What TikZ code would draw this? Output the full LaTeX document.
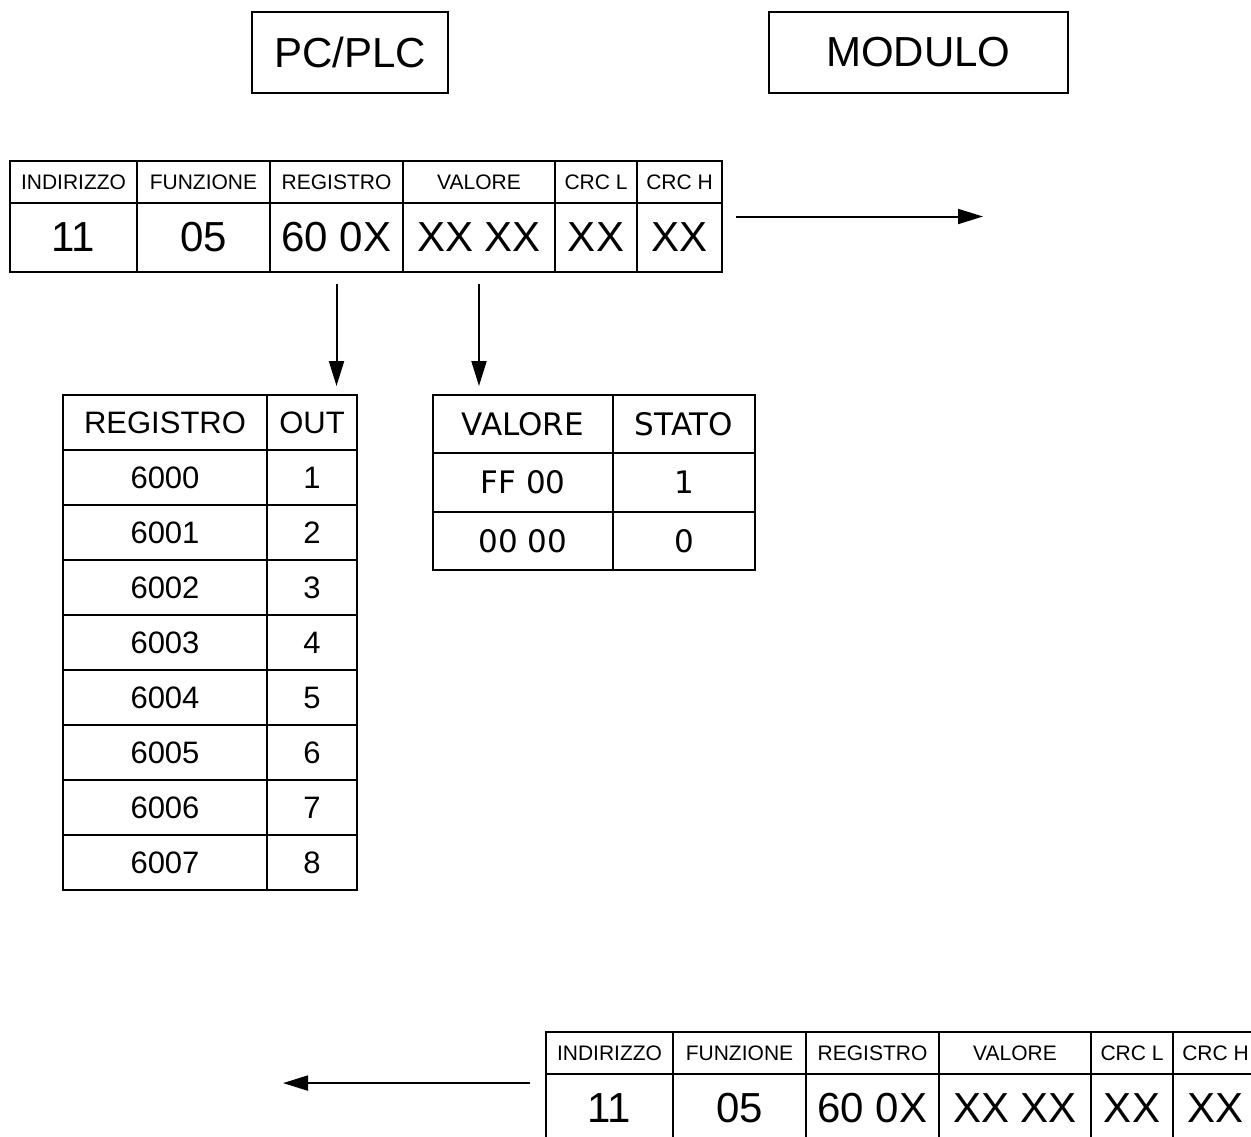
\documentclass[tikz,border=0pt]{standalone}
\usepackage{fontspec}
\setmainfont{Liberation Sans}
\newfontfamily\verdanalike{DejaVu Sans}
\usetikzlibrary{positioning, arrows.meta, calc}

% one Modbus frame: prefix, x, y of its top left corner
\newcommand{\drawFrame}[3]{%
  \node[hcell, minimum width=127pt, anchor=north west] (#1h1) at (#2,#3) {INDIRIZZO};
  \node[hcell, minimum width=133pt, right=0pt of #1h1] (#1h2) {FUNZIONE};
  \node[hcell, minimum width=133pt, right=0pt of #1h2] (#1h3) {REGISTRO};
  \node[hcell, minimum width=152pt, right=0pt of #1h3] (#1h4) {VALORE};
  \node[hcell, minimum width=82pt, right=0pt of #1h4] (#1h5) {CRC L};
  \node[hcell, minimum width=85pt, right=0pt of #1h5] (#1h6) {CRC H};
  \node[dcell, minimum width=127pt, below=0pt of #1h1] (#1d1) {11};
  \node[dcell, minimum width=133pt, below=0pt of #1h2] (#1d2) {05};
  \node[dcell, minimum width=133pt, below=0pt of #1h3] (#1d3) {60 0X};
  \node[dcell, minimum width=152pt, below=0pt of #1h4] (#1d4) {XX XX};
  \node[dcell, minimum width=82pt, below=0pt of #1h5] (#1d5) {XX};
  \node[dcell, minimum width=85pt, below=0pt of #1h6] (#1d6) {XX};
}

\begin{document}
\begin{tikzpicture}[x=1pt, y=-1pt,
      titlebox/.style={draw, line width=2.5pt, minimum height=81pt, inner sep=0pt, font=\fontsize{42}{48}\selectfont},
      hcell/.style={draw, line width=2.2pt, outer sep=0pt, inner sep=0pt, minimum height=42pt, font=\fontsize{21}{24}\selectfont},
      dcell/.style={draw, line width=2.2pt, outer sep=0pt, inner sep=0pt, minimum height=69pt, font=\fontsize{42}{48}\selectfont},
      rcell/.style={draw, line width=2.2pt, outer sep=0pt, inner sep=0pt, minimum height=55pt, font=\fontsize{31}{36}\selectfont},
      vcell/.style={draw, line width=2.2pt, outer sep=0pt, inner sep=0pt, minimum height=58.3pt, font=\verdanalike\fontsize{31}{36}\selectfont},
      arr/.style={-{Triangle[length=25pt, width=15pt]}, line width=2pt}]
    \useasboundingbox (0,0) rectangle (1251,1136);
    \clip (0,0) rectangle (1251,1136);

    \node[titlebox, minimum width=196pt] (plc) at (350,52.5) {PC/PLC};
    \node[titlebox, minimum width=299pt] (mod) at (918.5,52.5) {MODULO};

    % request and answer frames
    \drawFrame{t}{10}{161}
    \drawFrame{b}{546}{1032}

    % register table
    \node[rcell, minimum width=204pt, anchor=north west] (rh1) at (63,395) {REGISTRO};
    \node[rcell, minimum width=90pt, right=0pt of rh1] (rh2) {OUT};
    \foreach \i [count=\n] in {0,...,7} {
      \node[rcell, minimum width=204pt, anchor=north west] (reg\i) at (63,{450+55*\i}) {600\i};
      \node[rcell, minimum width=90pt, right=0pt of reg\i] (out\i) {\n};
    }

    % value table
    \node[vcell, minimum width=180pt, anchor=north west] (vh1) at (433,395) {VALORE};
    \node[vcell, minimum width=142pt, right=0pt of vh1] (vh2) {STATO};
    \node[vcell, minimum width=180pt, below=0pt of vh1] (von) {FF 00};
    \node[vcell, minimum width=142pt, below=0pt of vh2] (son) {1};
    \node[vcell, minimum width=180pt, below=0pt of von] (voff) {00 00};
    \node[vcell, minimum width=142pt, below=0pt of son] (soff) {0};

    \draw[arr] ([xshift=14pt]$(th6.north east)!0.5!(td6.south east)$) -- ++(247,0);
    \draw[arr] ([yshift=-12pt]td3.south) -- ([yshift=9pt]td3.south |- rh1.north);
    \draw[arr] ([yshift=-12pt]td4.south) -- ([yshift=9pt]td4.south |- vh1.north);
    \draw[arr] ([xshift=-16pt]$(bh1.north west)!0.46!(bd1.south west)$) -- ++(-247,0);
  \end{tikzpicture}
\end{document}
